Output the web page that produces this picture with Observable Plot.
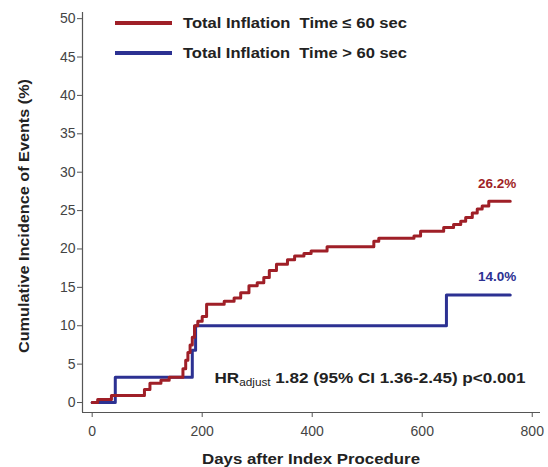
<!DOCTYPE html>
<html><head><meta charset="utf-8">
<script src="https://cdn.jsdelivr.net/npm/d3@7"></script>
<script src="https://cdn.jsdelivr.net/npm/@observablehq/plot@0.6"></script>
<style>
body{margin:0;background:#fff}
#chart{position:relative;width:548px;height:467px}
</style>
</head><body><div id="chart"></div>
<script>
// ---- data ----
const redDays = [0, 10, 35, 95, 105, 125, 140, 165, 170, 174, 178, 182, 186, 192, 200, 208, 240, 258, 270, 285, 300, 312, 322, 335, 355, 368, 385, 398, 427, 512, 521, 585, 597, 639, 657, 670, 679, 691, 700, 709, 721, 760];
const redPct  = [0, 0.4, 0.9, 1.7, 2.5, 2.9, 3.3, 4.4, 5.5, 6.5, 7.5, 8.5, 10.0, 10.6, 11.2, 12.8, 13.2, 13.6, 14.3, 15.2, 15.6, 16.3, 17.2, 18.0, 18.6, 19.1, 19.4, 19.75, 20.3, 21.0, 21.4, 21.7, 22.3, 22.8, 23.2, 23.6, 24.1, 24.7, 25.2, 25.6, 26.2, 26.2];
const blueDays = [0, 42, 182, 188, 644, 760];
const bluePct  = [0, 3.3, 6.8, 10.0, 14.0, 14.0];
const seriesNames = ["Total Inflation  Time \u2264 60 sec", "Total Inflation  Time > 60 sec"];
const endLabels = ["26.2%", "14.0%"];
const xTicks = [0, 200, 400, 600, 800];
const yTicks = [0, 5, 10, 15, 20, 25, 30, 35, 40, 45, 50];
const xTitle = "Days after Index Procedure";
const yTitle = "Cumulative Incidence of Events (%)";
const hrParts = ["HR", "adjust", " 1.82 (95% CI 1.36-2.45) p<0.001"];

// ---- styling ----
const RED = "#9f1f27", BLUE = "#2c3192";
const FONT = "'Liberation Sans', Arial, sans-serif";
const xDomain = [-17.6, 815];
const yDomain = [-1.3, 50.8];

const red = redDays.map((d, i) => ({day: d, pct: redPct[i]}));
const blue = blueDays.map((d, i) => ({day: d, pct: bluePct[i]}));
const ends = [
  {day: redDays[redDays.length - 1], pct: redPct[redPct.length - 1], label: endLabels[0], color: RED},
  {day: blueDays[blueDays.length - 1], pct: bluePct[bluePct.length - 1], label: endLabels[1], color: BLUE}
];
const hrLabel = hrParts.join("");

const plot = Plot.plot({
  width: 548, height: 467,
  marginLeft: 82, marginRight: 8, marginTop: 12, marginBottom: 55,
  style: {fontFamily: FONT, fontSize: "14px", color: "#444", background: "#fff"},
  x: {domain: xDomain, label: null},
  y: {domain: yDomain, label: null},
  marks: [
    Plot.ruleX([xDomain[0]], {stroke: "#555", strokeWidth: 1.2}),
    Plot.ruleY([yDomain[0]], {stroke: "#555", strokeWidth: 1.2}),
    Plot.axisY(yTicks, {tickSize: 5, tickPadding: 2, fontSize: 14, stroke: "#555", fill: "#444", label: null}),
    Plot.axisX(xTicks, {tickSize: 5, tickPadding: 9, fontSize: 14, stroke: "#555", fill: "#444", label: null}),
    Plot.line(blue, {x: "day", y: "pct", curve: "step-after", stroke: BLUE, strokeWidth: 3}),
    Plot.line(red, {x: "day", y: "pct", curve: "step-after", stroke: RED, strokeWidth: 3}),
    Plot.text(ends, {x: "day", y: "pct", text: "label", fill: "color", textAnchor: "end", dx: 6, dy: -18, fontSize: 13.5, fontWeight: "bold"}),
    Plot.text([hrLabel], {text: d => d, frameAnchor: "bottom-right", textAnchor: "end", dx: -15, dy: -30, fontSize: 14.5, fontWeight: "bold", fill: "#222"})
  ]
});

const svg = d3.select(plot);
// subscript in HR text
svg.selectAll("text").filter(function () { return this.textContent === hrLabel; }).each(function () {
  const t = d3.select(this);
  t.text(null);
  t.attr("textLength", 311).attr("lengthAdjust", "spacingAndGlyphs");
  t.append("tspan").text(hrParts[0]);
  t.append("tspan").attr("font-size", 10).attr("font-weight", "normal").attr("dy", 3).text(hrParts[1]);
  t.append("tspan").attr("dy", -3).text(hrParts[2]);
});

// axis titles
svg.append("text").attr("transform", "translate(24,216) rotate(-90)").attr("text-anchor", "middle")
  .attr("dy", "0.35em").attr("font-family", FONT).attr("font-weight", "bold").attr("font-size", 15)
  .attr("textLength", 274).attr("lengthAdjust", "spacingAndGlyphs")
  .attr("fill", "#222").text(yTitle);
svg.append("text").attr("x", 311).attr("y", 459).attr("text-anchor", "middle")
  .attr("dy", "0.35em").attr("font-family", FONT).attr("font-weight", "bold").attr("font-size", 15)
  .attr("textLength", 218).attr("lengthAdjust", "spacingAndGlyphs")
  .attr("fill", "#222").text(xTitle);

// legend
const lg = svg.append("g").attr("font-family", FONT);
[RED, BLUE].forEach((c, i) => {
  const y = 23 + i * 30;
  lg.append("line").attr("x1", 115).attr("x2", 172).attr("y1", y).attr("y2", y)
    .attr("stroke", c).attr("stroke-width", 4);
  lg.append("text").attr("x", 183).attr("y", y).attr("dy", "0.35em").attr("font-size", 14.5)
    .attr("text-anchor", "start")
    .attr("textLength", 224).attr("lengthAdjust", "spacingAndGlyphs")
    .attr("font-weight", "bold").attr("fill", "#222").attr("xml:space", "preserve")
    .style("white-space", "pre").text(seriesNames[i]);
});

document.getElementById("chart").appendChild(plot);
</script>
</body></html>
